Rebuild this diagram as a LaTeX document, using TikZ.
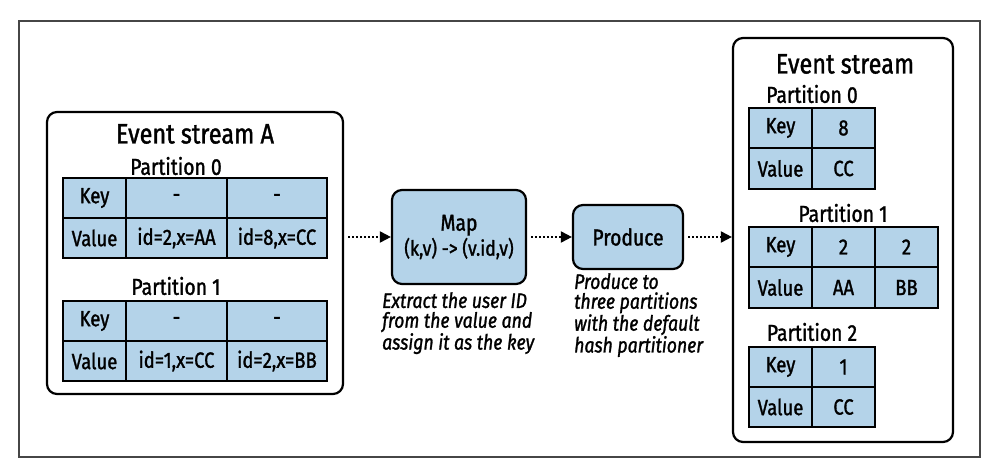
\documentclass[tikz,border=0pt]{standalone}
\usepackage{fontspec}
\setmainfont{Fira Sans}[FakeStretch=0.84, FakeBold=1.3]
\usetikzlibrary{arrows.meta}
\definecolor{cellblue}{RGB}{180,211,233}
\definecolor{framegray}{RGB}{70,70,70}
\tikzset{
  cell/.style={draw=black, fill=cellblue, line width=2.6pt, inner sep=0pt, font=\fontsize{22}{24}\selectfont},
  stream/.style={draw=black, line width=2.2pt, rounded corners=10pt, inner sep=0pt},
  proc/.style={draw=black, fill=cellblue, line width=2.2pt, rounded corners=10pt, inner sep=0pt, align=center},
  ptitle/.style={font=\fontsize{23}{25}\selectfont, inner sep=0pt},
  stitle/.style={font=\fontsize{28}{30}\selectfont, inner sep=0pt},
  caption/.style={font=\fontsize{21}{19.8}\selectfont\itshape, align=left, inner sep=0pt, anchor=north west},
  flow/.style={line width=2pt, dash pattern=on 2pt off 2pt, -{Triangle[length=11pt,width=11pt]}, shorten <=4pt}
}
\newcommand{\tcell}[6]{\node[cell, minimum width={(#4-#2)*1pt}, minimum height={(#5-#3)*1pt}] (#1) at ({(#2+#4)/2},{(#3+#5)/2}) {#6};}
\begin{document}
\begin{tikzpicture}[x=1pt,y=-1pt]
\useasboundingbox (0,0) rectangle (998,470);
\node[draw=framegray, line width=1.5pt, minimum width=961pt, minimum height=436pt, inner sep=0pt] (frame) at (499.5,239) {};
% Event stream A
\node[stream, minimum width=296pt, minimum height=282pt] (A) at (195,253) {};
\node[stitle] (Atitle) at (195,134) {Event stream A};
\node[ptitle] (Ap0) at (176,166) {Partition 0};
\tcell{a0k}{63}{178}{126}{218}{Key}
\tcell{a0k1}{126}{178}{227}{218}{-}
\tcell{a0k2}{227}{178}{327}{218}{-}
\tcell{a0v}{63}{218}{126}{258}{Value}
\tcell{a0v1}{126}{218}{227}{258}{id=2,x=AA}
\tcell{a0v2}{227}{218}{327}{258}{id=8,x=CC}
\node[ptitle] (Ap1) at (176,286) {Partition 1};
\tcell{a1k}{63}{301}{126}{341}{Key}
\tcell{a1k1}{126}{301}{227}{341}{-}
\tcell{a1k2}{227}{301}{327}{341}{-}
\tcell{a1v}{63}{341}{126}{381}{Value}
\tcell{a1v1}{126}{341}{227}{381}{id=1,x=CC}
\tcell{a1v2}{227}{341}{327}{381}{id=2,x=BB}
% Map
\node[proc, minimum width=134pt, minimum height=94pt, font=\fontsize{21}{24}\selectfont] (map) at (459,237) {\fontsize{23}{24}\selectfont Map\\[1pt]\fontsize{21}{24}\selectfont(k,v) -> (v.id,v)};
\node[caption] (mapcap) at (382,292) {Extract the user ID\\from the value and\\assign it as the key};
% Produce
\node[proc, minimum width=110pt, minimum height=64pt, font=\fontsize{23}{24}\selectfont] (prod) at (628,237) {Produce};
\node[caption] (prodcap) at (574,273) {Produce to\\three partitions\\with the default\\hash partitioner};
% Event stream out
\node[stream, minimum width=220pt, minimum height=404pt] (B) at (843,240) {};
\node[stitle] (Btitle) at (845,64) {Event stream};
\node[ptitle] (Bp0) at (812,94) {Partition 0};
\tcell{b0k}{749}{108}{812}{148}{Key}
\tcell{b0k1}{812}{108}{875}{148}{8}
\tcell{b0v}{749}{148}{812}{189}{Value}
\tcell{b0v1}{812}{148}{875}{189}{CC}
\node[ptitle] (Bp1) at (843,213) {Partition 1};
\tcell{b1k}{749}{227}{812}{267}{Key}
\tcell{b1k1}{812}{227}{875}{267}{2}
\tcell{b1k2}{875}{227}{938}{267}{2}
\tcell{b1v}{749}{267}{812}{308}{Value}
\tcell{b1v1}{812}{267}{875}{308}{AA}
\tcell{b1v2}{875}{267}{938}{308}{BB}
\node[ptitle] (Bp2) at (812,332) {Partition 2};
\tcell{b2k}{749}{347}{812}{387}{Key}
\tcell{b2k1}{812}{347}{875}{387}{1}
\tcell{b2v}{749}{387}{812}{427}{Value}
\tcell{b2v1}{812}{387}{875}{427}{CC}
% arrows
\draw[flow] (A.east |- map.west) -- (map.west);
\draw[flow] (map.east) -- (prod.west);
\draw[flow] (prod.east) -- (B.west |- prod.east);
\end{tikzpicture}
\end{document}
